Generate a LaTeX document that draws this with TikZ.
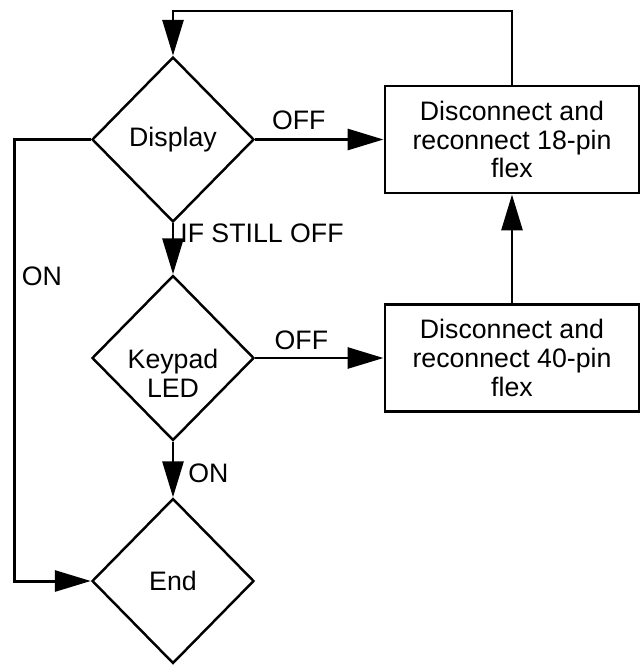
\documentclass[tikz,border=0pt]{standalone}
\usepackage{fontspec}
\setmainfont{Liberation Sans}
\usetikzlibrary{shapes.geometric,arrows.meta}

\begin{document}
\begin{tikzpicture}[
        decision/.style = {draw, diamond, line width=1.4pt, minimum width=3.24cm, minimum height=3.3cm, inner sep=0pt},
        block/.style = {draw, rectangle, line width=1.7pt, minimum width=5.08cm, minimum height=2.14cm, align=center, inner sep=0pt},
        flow/.style = {line width=1.7pt, -{Triangle[length=0.72cm,width=0.42cm]}},
        font=\fontsize{15.2pt}{16.4pt}\selectfont]
                \useasboundingbox (0cm,0cm) rectangle (12.82cm,-13.3cm);
                \node[decision] (display) at (3.46cm,-2.79cm) {Display};
                \node[decision, label={[align=center, yshift=-0.3cm]center:Keypad\\LED}] (keypad) at (3.46cm,-7.16cm) {};
                \node[decision] (end) at (3.46cm,-11.62cm) {End};
                \node[block] (reflex18) at (10.24cm,-2.79cm) {Disconnect and\\reconnect 18-pin\\flex};
                \node[block] (reflex40) at (10.24cm,-7.16cm) {Disconnect and\\reconnect 40-pin\\flex};
                \coordinate (toprail) at (0cm,-0.22cm);
                \coordinate (leftrail) at (0.29cm,0cm);
                \draw[flow] (display.east) -- node[pos=0.34, above=0.04cm] {OFF} (reflex18.west);
                \draw[flow] (display.south) -- node[pos=0.2, right] {IF STILL OFF} (keypad.north);
                \draw[flow] (keypad.east) -- node[pos=0.36, above=0.02cm] {OFF} (reflex40.west);
                \draw[flow] (keypad.south) -- node[pos=0.57, right=0.16cm] {ON} (end.north);
                \draw[flow] (reflex40.north) -- (reflex18.south);
                \draw[flow] (reflex18.north) |- (toprail -| display.north) -- (display.north);
                \draw[flow] (display.west) -| node[pos=0.655, right] {ON} (leftrail |- end.west) -- (end.west);
            \end{tikzpicture}
\end{document}
